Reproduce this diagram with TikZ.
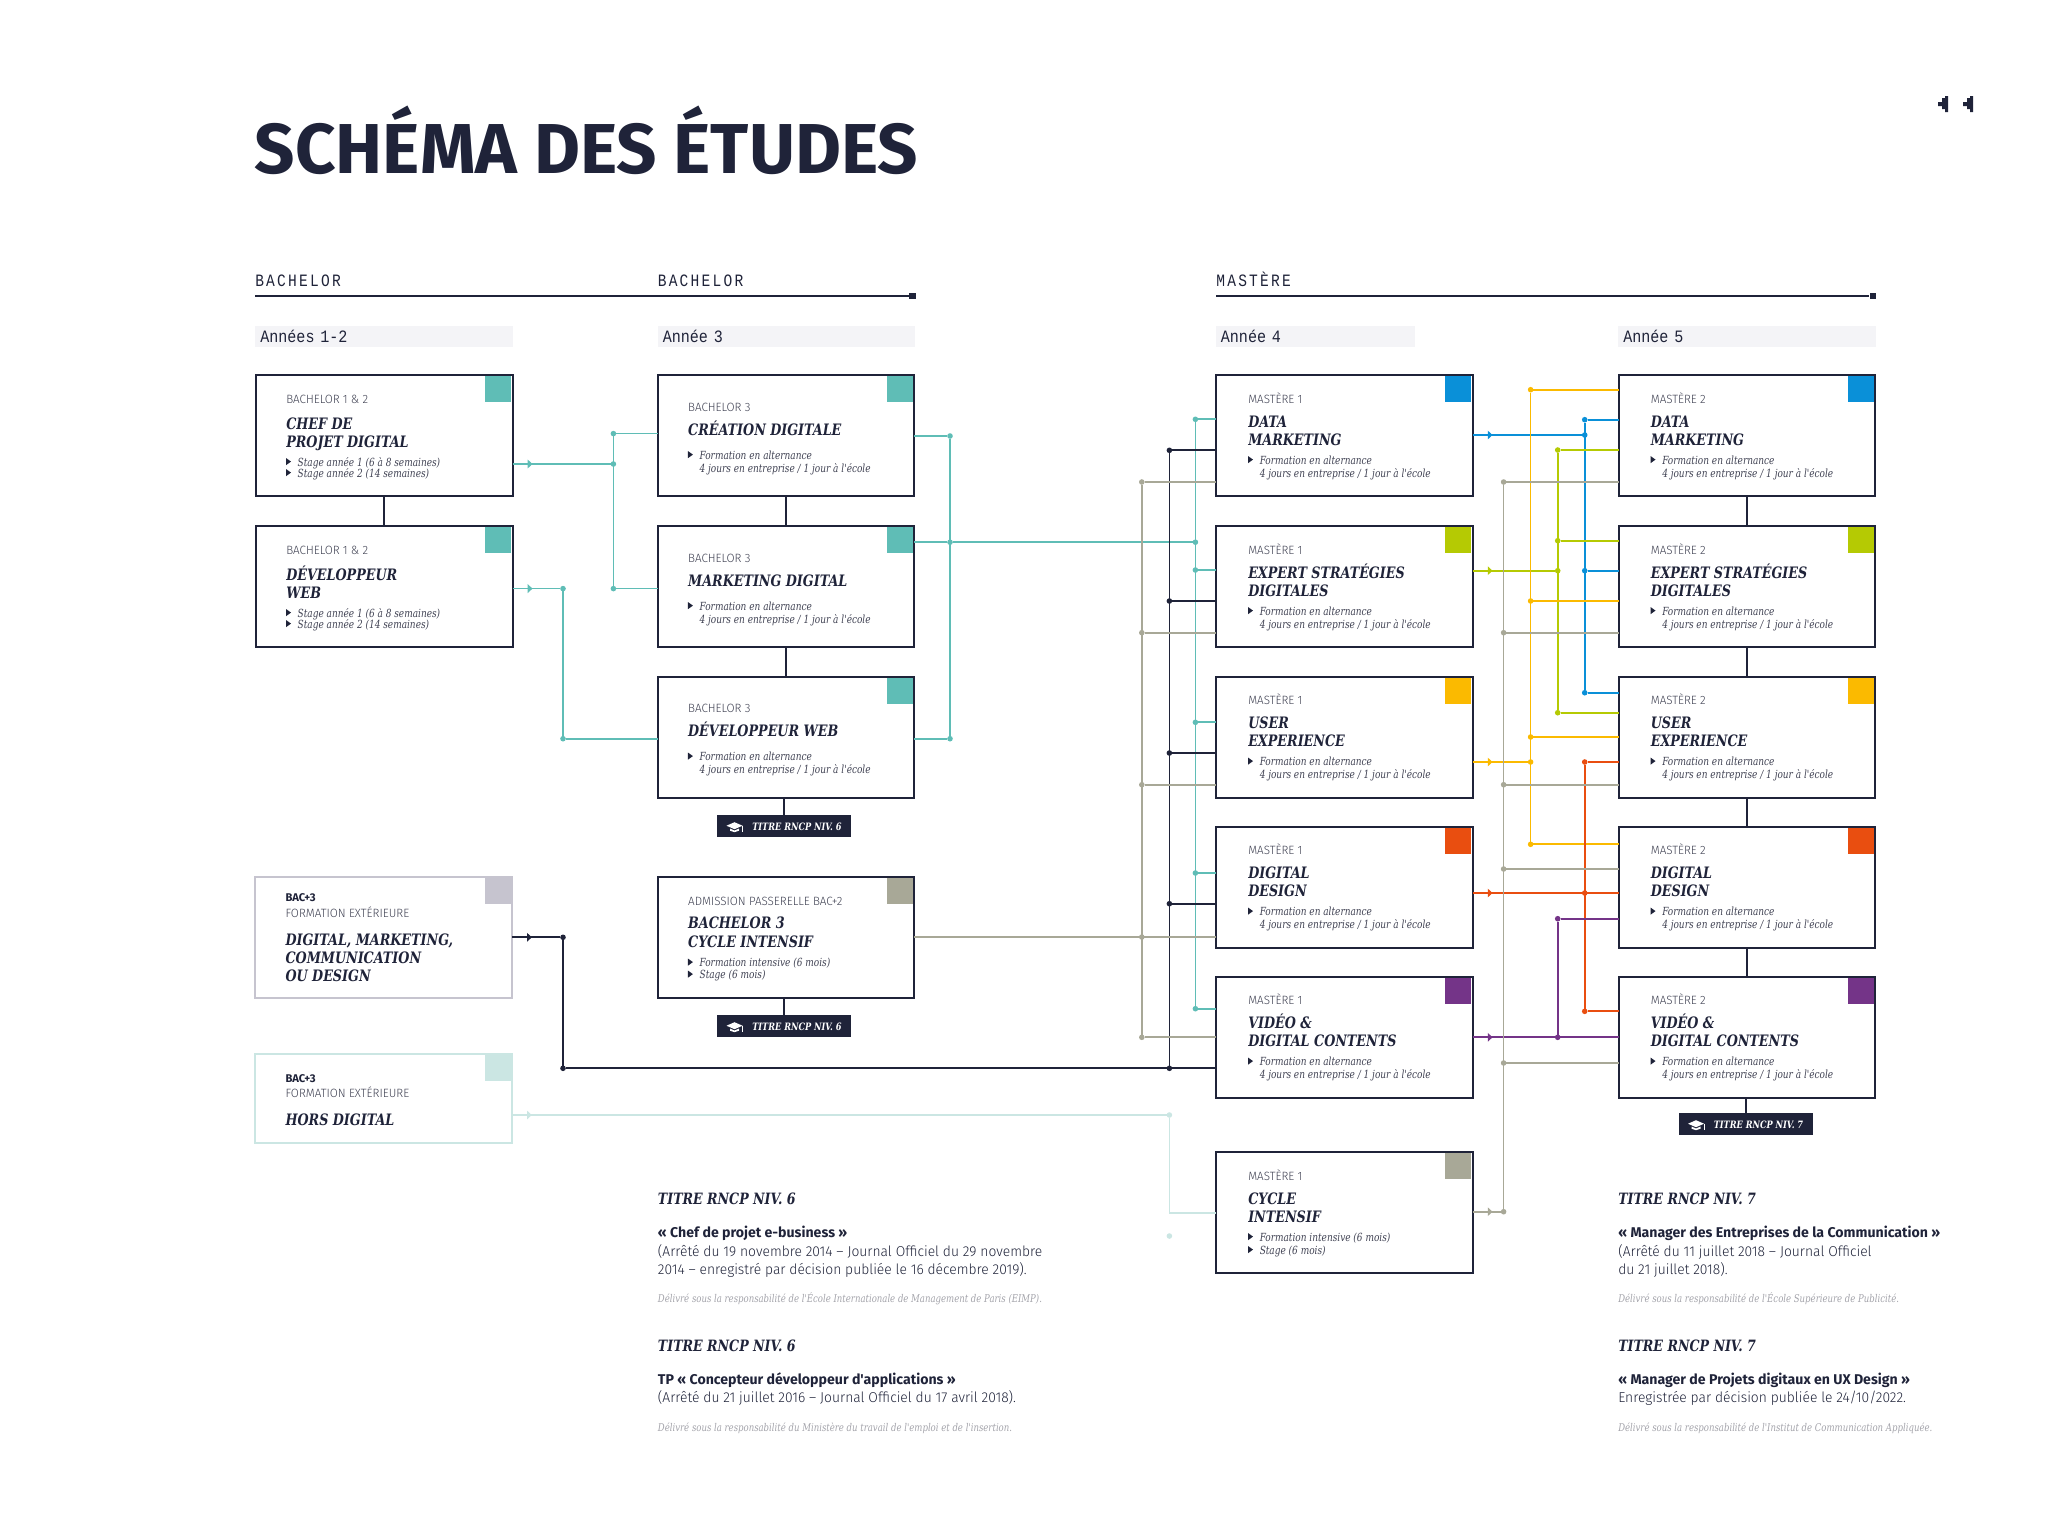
\documentclass[tikz,border=0pt]{standalone}
\usepackage{fontspec}
\usetikzlibrary{arrows.meta,decorations.markings}
\newfontfamily\titrefont{Fira Sans}
\newfontfamily\sansfont{Fira Sans}
\newfontfamily\finefont[FakeStretch=.97]{Fira Sans Light}
\newfontfamily\slabfont[FakeStretch=.9]{DejaVu Serif Condensed}
\newfontfamily\slabfin[FakeStretch=.89]{DejaVu Serif Condensed}
\newfontfamily\monofont[FakeStretch=.87]{Liberation Mono}
\newfontfamily\monoesp[FakeStretch=.84,LetterSpace=13]{Liberation Mono}
\definecolor{cfonce}{HTML}{1F2339}
\definecolor{cgris}{HTML}{3F4152}
\definecolor{cpale}{HTML}{A3A3AA}
\definecolor{cteal}{HTML}{5FBDB6}
\definecolor{cdata}{HTML}{0A90D8}
\definecolor{cvert}{HTML}{B5CA03}
\definecolor{cjaune}{HTML}{FBBA00}
\definecolor{corange}{HTML}{E94E10}
\definecolor{cviolet}{HTML}{743488}
\definecolor{ckaki}{HTML}{A8A897}
\definecolor{clav}{HTML}{C6C4CF}
\definecolor{cclair}{HTML}{CBE6E3}
\definecolor{cbarre}{HTML}{F4F4F7}
\tikzset{
  carte/.style={draw=cfonce,line width=1.5pt,anchor=north west,outer sep=0pt,inner sep=0pt,
    minimum width=192.4pt,minimum height=91.1pt},
  coin/.style={anchor=north east,xshift=-.75pt,yshift=-.75pt,minimum size=19.5pt,inner sep=0pt},
  barre/.style={anchor=north west,fill=cbarre,inner xsep=3.75pt,inner ysep=0pt,text width=185.5pt,
    minimum height=15.75pt,text height=9pt,text depth=0pt,align=left,text=cfonce,
    font=\monofont\fontsize{13}{14}\selectfont},
  entete/.style={anchor=base west,inner sep=0pt,text=cfonce,font=\monoesp\fontsize{13}{14}\selectfont},
  carre/.style={fill=cfonce,minimum size=5pt,inner sep=0pt},
  badge/.style={anchor=north west,fill=cfonce,minimum width=100.8pt,minimum height=16.8pt,inner sep=0pt,outer sep=0pt},
  tb/.style={anchor=base west,inner sep=0pt,text=white,font=\slabfont\bfseries\itshape\fontsize{7.6}{8}\selectfont},
  ts/.style={anchor=base west,inner sep=0pt,text=cgris,font=\finefont\fontsize{9}{10}\selectfont},
  tg/.style={anchor=base west,inner sep=0pt,text=cfonce,font=\sansfont\bfseries\fontsize{8.4}{10}\selectfont},
  tt/.style={anchor=base west,inner sep=0pt,text=cfonce,font=\slabfont\bfseries\itshape\fontsize{11.8}{13}\selectfont},
  ti/.style={anchor=base west,inner sep=0pt,xshift=8.6pt,text=cgris,font=\slabfin\itshape\fontsize{8.4}{10}\selectfont},
  th/.style={anchor=base west,inner sep=0pt,text=cfonce,font=\slabfont\bfseries\itshape\fontsize{11.7}{13}\selectfont},
  tn/.style={anchor=base west,inner sep=0pt,text=cfonce,font=\sansfont\bfseries\fontsize{10.6}{12}\selectfont},
  tc/.style={anchor=base west,inner sep=0pt,text=cfonce,font=\finefont\fontsize{10.7}{13}\selectfont},
  td/.style={anchor=base west,inner sep=0pt,text=cpale,font=\slabfin\itshape\fontsize{8}{9}\selectfont},
  pt/.style={circle,minimum size=4.2pt,inner sep=0pt,outer sep=0pt},
  lien/.style={line width=1.25pt},
  trait/.style={draw=cfonce,line width=1.3pt},
  fleche/.style={postaction={decorate,decoration={markings,
    mark=at position 15pt with {\arrow{Triangle[length=3.6pt,width=6.4pt]}}}}},
  toque/.pic={
    \fill[white] (-8,-1) -- (0,-4.5) -- (8,-1) -- (0,2.5) -- cycle;
    \fill[white] (-4.5,1.8) -- (0,3.8) -- (4.5,1.8) -- (4.5,4) -- (0,5.5) -- (-4.5,4) -- cycle;
    \draw[white,line width=.4pt] (8,-1) -- (8,5);
  }
}
\newcommand{\decal}{30}
\newcommand{\ligne}[4]{\path (#1.north west) ++(\decal,#3-1) node (#1#2#3) [#2] {#4};}
\newcommand{\puce}[3]{\fill[cfonce] (#1.north west) ++(\decal,#2-9) -- ++(5,3.6) -- ++(-5,3.6) -- cycle;
  \ligne{#1}{ti}{#2}{#3}}
\begin{document}
\begin{tikzpicture}[x=.75pt,y=-.75pt]
\useasboundingbox (0,0) rectangle (2062,1535);
\node (titre) [anchor=base west,inner sep=0pt,text=cfonce,font=\titrefont\bfseries\fontsize{53}{60}\selectfont]
  at (254.5,173) {SCHÉMA DES ÉTUDES};
\fill[cfonce] (1938,102) -- ++(4,0) -- ++(0,-4) -- ++(3,0) -- ++(0,-2) -- ++(3,0) -- ++(0,16)
  -- ++(-3,0) -- ++(0,-3) -- ++(-3,0) -- ++(0,-3) -- ++(-4,0) -- cycle;
\fill[cfonce] (1963,102) -- ++(4,0) -- ++(0,-4) -- ++(3,0) -- ++(0,-2) -- ++(3,0) -- ++(0,16)
  -- ++(-3,0) -- ++(0,-3) -- ++(-3,0) -- ++(0,-3) -- ++(-4,0) -- cycle;

\node (hb) [entete] at (255,286) {BACHELOR};
\node (hc) [entete] at (657.5,286) {BACHELOR};
\node (hm) [entete] at (1216,286) {MASTÈRE};
\coordinate (db) at (255,296);
\coordinate (dm) at (1216,296);
\node (fb) [carre] at (912.5,296) {};
\node (fm) [carre] at (1873,296) {};
\draw[cfonce,line width=.9pt] (db) -- (fb);
\draw[cfonce,line width=.9pt] (dm) -- (fm);

\node (a12) [barre] at (255,326) {Années 1-2};
\node (a3) [barre] at (657.5,326) {Année 3};
\node (a4) [barre,text width=141.8pt] at (1215.6,326) {Année 4};
\node (a5) [barre] at (1618,326) {Année 5};

% bachelor
\node (cp) [carte] at (256,375) {};
\node (cpc) [coin,fill=cteal] at (cp.north east) {};
\ligne{cp}{ts}{29}{BACHELOR 1 \& 2}
\ligne{cp}{tt}{55}{CHEF DE}
\ligne{cp}{tt}{73}{PROJET DIGITAL}
\puce{cp}{92}{Stage année 1 (6 à 8 semaines)}
\puce{cp}{103}{Stage année 2 (14 semaines)}

\node (dw) [carte] at (256,526) {};
\node (dwc) [coin,fill=cteal] at (dw.north east) {};
\ligne{dw}{ts}{29}{BACHELOR 1 \& 2}
\ligne{dw}{tt}{55}{DÉVELOPPEUR}
\ligne{dw}{tt}{73}{WEB}
\puce{dw}{92}{Stage année 1 (6 à 8 semaines)}
\puce{dw}{103}{Stage année 2 (14 semaines)}

\foreach \n/\yy/\t in {cd/375/CRÉATION DIGITALE, mk/526/MARKETING DIGITAL, dv/676.5/DÉVELOPPEUR WEB}{
  \node (\n) [carte] at (657.9,\yy) {};
  \node (\n c) [coin,fill=cteal] at (\n.north east) {};
  \ligne{\n}{ts}{37}{BACHELOR 3}
  \ligne{\n}{tt}{61}{\t}
  \puce{\n}{85}{Formation en alternance}
  \ligne{\n}{ti}{98}{4 jours en entreprise / 1 jour à l'école}
}
\node (ci) [carte] at (657.9,876.5) {};
\node (cic) [coin,fill=ckaki] at (ci.north east) {};
\ligne{ci}{ts}{30}{ADMISSION PASSERELLE BAC+2}
\ligne{ci}{tt}{53}{BACHELOR 3}
\ligne{ci}{tt}{72}{CYCLE INTENSIF}
\puce{ci}{91}{Formation intensive (6 mois)}
\puce{ci}{103}{Stage (6 mois)}

\node (bd) [carte,draw=clav] at (255.3,876.5) {};
\node (bdc) [coin,fill=clav] at (bd.north east) {};
\ligne{bd}{tg}{26}{BAC+3}
\ligne{bd}{ts}{42}{FORMATION EXTÉRIEURE}
\ligne{bd}{tt}{70}{DIGITAL, MARKETING,}
\ligne{bd}{tt}{88}{COMMUNICATION}
\ligne{bd}{tt}{106}{OU DESIGN}

\node (hd) [carte,draw=cclair,minimum height=66.75pt] at (255.3,1054) {};
\node (hdc) [coin,fill=cclair] at (hd.north east) {};
\ligne{hd}{tg}{29}{BAC+3}
\ligne{hd}{ts}{44}{FORMATION EXTÉRIEURE}
\ligne{hd}{tt}{72}{HORS DIGITAL}

% mastere
\renewcommand{\decal}{32}
\foreach \an/\xx in {1/1216,2/1618.5}{
  \foreach \n/\yy/\coul/\ta/\tb in {da/375/cdata/DATA/MARKETING, ex/526/cvert/EXPERT STRATÉGIES/DIGITALES,
      ux/676.5/cjaune/USER/EXPERIENCE, de/826.5/corange/DIGITAL/DESIGN, vi/976.5/cviolet/VIDÉO \&/DIGITAL CONTENTS}{
    \node (m\an\n) [carte] at (\xx,\yy) {};
    \node (m\an\n c) [coin,fill=\coul] at (m\an\n.north east) {};
    \ligne{m\an\n}{ts}{29}{MASTÈRE \an}
    \ligne{m\an\n}{tt}{53}{\ta}
    \ligne{m\an\n}{tt}{71}{\tb}
    \puce{m\an\n}{90}{Formation en alternance}
    \ligne{m\an\n}{ti}{103}{4 jours en entreprise / 1 jour à l'école}
  }
}
\node (cy) [carte] at (1216,1152) {};
\node (cyc) [coin,fill=ckaki] at (cy.north east) {};
\ligne{cy}{ts}{29}{MASTÈRE 1}
\ligne{cy}{tt}{53}{CYCLE}
\ligne{cy}{tt}{71}{INTENSIF}
\puce{cy}{90}{Formation intensive (6 mois)}
\puce{cy}{103}{Stage (6 mois)}

% badges
\node (b1) [badge] at (717,815) {};
\node (b2) [badge] at (717,1015) {};
\node (b3) [badge] at (1678.5,1113) {};
\foreach \b/\niv in {b1/6,b2/6,b3/7}{
  \path (\b.north west) ++(35,15) node (\b t) [tb] {TITRE RNCP NIV. \niv};
  \path (\b.north west) ++(17.5,11.7) pic {toque};
}
\draw[trait] (cp) -- (dw);
\draw[trait] (cd) -- (mk);
\draw[trait] (mk) -- (dv);
\draw[trait] (m2da) -- (m2ex);
\draw[trait] (m2ex) -- (m2ux);
\draw[trait] (m2ux) -- (m2de);
\draw[trait] (m2de) -- (m2vi);
\draw[trait] (dv.south -| b1.north) -- (b1.north);
\draw[trait] (ci.south -| b2.north) -- (b2.north);
\draw[trait] (m2vi.south -| b3.north) -- (b3.north);

% liens teal
\foreach \n/\xx/\yy in {ja/613.4/433.6,jb/613.4/464,jc/613.4/588.6,jd/563/588.6,je/563/738.7,
    jf/950/436,jg/950/542.2,jh/950/738.7}{
  \node (\n) [pt,fill=cteal] at (\xx,\yy) {};
}
\foreach \n/\yy in {a/419.3,b/542.2,c/570,d/722.3,e/873,f/1008.7}{
  \node (t\n) [pt,fill=cteal] at (1195.4,\yy) {};
}
\draw[lien,cteal,fleche] (cp.east |- jb) -- (jb);
\draw[lien,cteal,fleche] (dw.east |- jd) -- (jd);
\draw[lien,cteal] (ja) -- (jc);
\draw[lien,cteal] (jd) -- (je);
\draw[lien,cteal] (jf) -- (jh);
\draw[lien,cteal] (ta) -- (tf);
\foreach \j/\c in {ja/cd,jc/mk,je/dv}{\draw[lien,cteal] (\j) -- (\c.west |- \j);}
\foreach \j/\c in {jf/cd,jg/mk,jh/dv}{\draw[lien,cteal] (\c.east |- \j) -- (\j);}
\draw[lien,cteal] (jg) -- (tb);
\foreach \j/\c in {ta/m1da,tc/m1ex,td/m1ux,te/m1de,tf/m1vi}{\draw[lien,cteal] (\j) -- (\c.west |- \j);}

% liens fonces
\node (ka) [pt,fill=cfonce] at (563,937.3) {};
\node (kb) [pt,fill=cfonce] at (563,1068.3) {};
\foreach \n/\yy in {c/450.3,d/601,e/753,f/903.7,g/1068.3}{
  \node (k\n) [pt,fill=cfonce] at (1169.4,\yy) {};
}
\draw[lien,cfonce,fleche] (bd.east |- ka) -- (ka);
\draw[lien,cfonce] (ka) -- (kb);
\draw[lien,cfonce] (kb) -- (m1vi.west |- kb);
\draw[lien,cfonce] (kc) -- (kg);
\foreach \j/\c in {kc/m1da,kd/m1ex,ke/m1ux,kf/m1de}{\draw[lien,cfonce] (\j) -- (\c.west |- \j);}

% liens kaki
\foreach \n/\yy in {a/482,b/632.7,c/784.7,d/937,e/1037.3}{
  \node (g\n) [pt,fill=ckaki] at (1141.8,\yy) {};
}
\draw[lien,ckaki] (ga) -- (ge);
\draw[lien,ckaki] (ci.east |- gd) -- (m1de.west |- gd);
\foreach \j/\c in {ga/m1da,gb/m1ex,gc/m1ux,ge/m1vi}{\draw[lien,ckaki] (\j) -- (\c.west |- \j);}

% hors digital
\node (la) [pt,fill=cclair] at (1169.4,1115) {};
\node (lb) [pt,fill=cclair] at (1169.4,1236) {};
\coordinate (lc) at (1169.4,1212.7);
\draw[lien,cclair,fleche] (hd.east |- la) -- (la);
\draw[lien,cclair] (la) -- (lc) -- (cy.west |- lc);

% mastere 1 vers mastere 2
\foreach \n/\yy in {a/419.7,b/435,c/570.7,d/692.7}{\node (q\n) [pt,fill=cdata] at (1584.7,\yy) {};}
\draw[lien,cdata,fleche] (m1da.east |- qb) -- (qb);
\draw[lien,cdata] (qa) -- (qd);
\foreach \j/\c in {qa/m2da,qc/m2ex,qd/m2ux}{\draw[lien,cdata] (\j) -- (\c.west |- \j);}

\foreach \n/\yy in {a/450,b/540.7,c/570.7,d/712.7}{\node (v\n) [pt,fill=cvert] at (1557.7,\yy) {};}
\draw[lien,cvert,fleche] (m1ex.east |- vc) -- (vc);
\draw[lien,cvert] (va) -- (vd);
\foreach \j/\c in {va/m2da,vb/m2ex,vd/m2ux}{\draw[lien,cvert] (\j) -- (\c.west |- \j);}

\foreach \n/\yy in {a/389.7,b/601,c/737,d/762,e/844.3}{\node (y\n) [pt,fill=cjaune] at (1530.6,\yy) {};}
\draw[lien,cjaune,fleche] (m1ux.east |- yd) -- (yd);
\draw[lien,cjaune] (ya) -- (ye);
\foreach \j/\c in {ya/m2da,yb/m2ex,yc/m2ux,ye/m2de}{\draw[lien,cjaune] (\j) -- (\c.west |- \j);}

\foreach \n/\yy in {a/762,b/893,c/1011.3}{\node (o\n) [pt,fill=corange] at (1584.7,\yy) {};}
\draw[lien,corange,fleche] (m1de.east |- ob) -- (m2de.west |- ob);
\draw[lien,corange] (oa) -- (oc);
\foreach \j/\c in {oa/m2ux,oc/m2vi}{\draw[lien,corange] (\j) -- (\c.west |- \j);}

\node (pa) [pt,fill=cviolet] at (1557.7,918.7) {};
\node (pb) [pt,fill=cviolet] at (1557.7,1037.3) {};
\draw[lien,cviolet,fleche] (m1vi.east |- pb) -- (m2vi.west |- pb);
\draw[lien,cviolet] (pa) -- (pb);
\draw[lien,cviolet] (pa) -- (m2de.west |- pa);

\foreach \n/\yy in {a/482,b/632.7,c/784.7,d/869,e/1063,f/1211.7}{\node (r\n) [pt,fill=ckaki] at (1503.6,\yy) {};}
\draw[lien,ckaki,fleche] (cy.east |- rf) -- (rf);
\draw[lien,ckaki] (ra) -- (rf);
\foreach \j/\c in {ra/m2da,rb/m2ex,rc/m2ux,rd/m2de,re/m2vi}{\draw[lien,ckaki] (\j) -- (\c.west |- \j);}

% titres rncp
\node (n1) [th] at (657.7,1204) {TITRE RNCP NIV. 6};
\node (n2) [tn] at (657.7,1237.3) {« Chef de projet e-business »};
\node (n3) [tc] at (657.7,1256) {(Arrêté du 19 novembre 2014 – Journal Officiel du 29 novembre};
\node (n4) [tc] at (657.7,1274.3) {2014 – enregistré par décision publiée le 16 décembre 2019).};
\node (n5) [td] at (657.7,1302) {Délivré sous la responsabilité de l'École Internationale de Management de Paris (EIMP).};
\node (n6) [th] at (657.7,1351) {TITRE RNCP NIV. 6};
\node (n7) [tn] at (657.7,1384.3) {TP « Concepteur développeur d'applications »};
\node (n8) [tc] at (657.7,1402.7) {(Arrêté du 21 juillet 2016 – Journal Officiel du 17 avril 2018).};
\node (n9) [td] at (657.7,1431) {Délivré sous la responsabilité du Ministère du travail de l'emploi et de l'insertion.};
\node (s1) [th] at (1618,1204) {TITRE RNCP NIV. 7};
\node (s2) [tn] at (1618,1237.3) {« Manager des Entreprises de la Communication »};
\node (s3) [tc] at (1618,1256) {(Arrêté du 11 juillet 2018 – Journal Officiel};
\node (s4) [tc] at (1618,1274.3) {du 21 juillet 2018).};
\node (s5) [td] at (1618,1302) {Délivré sous la responsabilité de l'École Supérieure de Publicité.};
\node (s6) [th] at (1618,1351) {TITRE RNCP NIV. 7};
\node (s7) [tn] at (1618,1384.3) {« Manager de Projets digitaux en UX Design »};
\node (s8) [tc] at (1618,1402.7) {Enregistrée par décision publiée le 24/10/2022.};
\node (s9) [td] at (1618,1431) {Délivré sous la responsabilité de l'Institut de Communication Appliquée.};
\end{tikzpicture}
\end{document}
